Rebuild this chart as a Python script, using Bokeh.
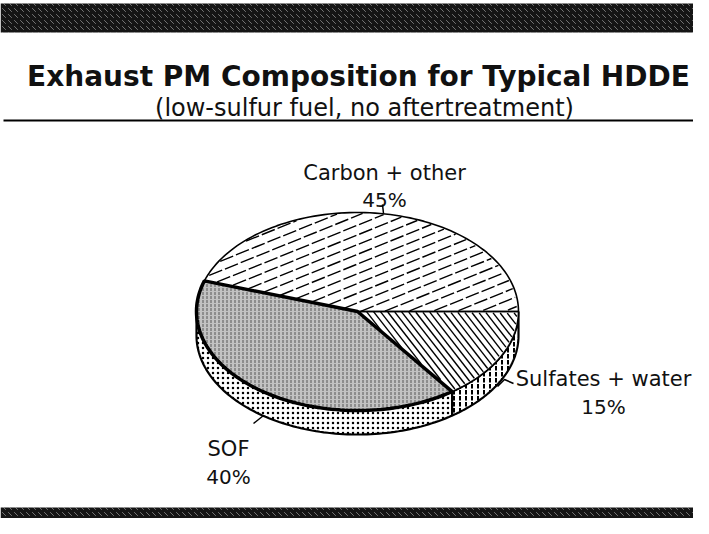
import numpy as np
from bokeh.plotting import figure
from bokeh.models import Range1d
from bokeh.embed import file_html
from bokeh.resources import INLINE
from bokeh.core.properties import value

# ---- data ----
categories = ["Carbon + other", "SOF", "Sulfates + water"]
shares = [45, 40, 15]
pct_labels = ["45%", "40%", "15%"]
title_text = "Exhaust PM Composition for Typical HDDE"
subtitle_text = "(low-sulfur fuel, no aftertreatment)"

# ---- layout (reference pixel coordinates) ----
W, H = 693, 518
CX, CY, RX, RY, DEPTH = 357, 311, 161, 99, 24
FONT = value("DejaVu Sans")

p = figure(width=W, height=H, x_range=Range1d(0, W), y_range=Range1d(H, 0),
           output_backend="svg", toolbar_location=None, min_border=0)
p.axis.visible = False
p.grid.visible = False
p.outline_line_color = None
p.background_fill_color = "white"
p.border_fill_color = "white"

# decorative bars
for top, bot in [(3, 32), (507, 531)]:
    p.quad(left=[0], right=[W + 20], top=[top], bottom=[bot], fill_color="#151515", line_color=None,
           hatch_pattern="`", hatch_color="white", hatch_alpha=0.4, hatch_scale=6, hatch_weight=1)
p.line(x=[3, 709], y=[120, 120], line_color="black", line_width=2)

# titles
p.text(x=[358], y=[76], text=[title_text], text_font=FONT, text_font_style="bold",
       text_font_size="28px", text_align="center", text_baseline="alphabetic", text_color="#111")
p.text(x=[364], y=[107], text=[subtitle_text], text_font=FONT,
       text_font_size="24px", text_align="center", text_baseline="alphabetic", text_color="#111")

# ---- pie geometry from shares ----
total = float(sum(shares))
bounds = np.concatenate([[0.0], np.cumsum(shares) / total * 360.0])


def arc(a0, a1, dy=0.0, n=90):
    t = np.radians(np.linspace(a0, a1, n))
    return CX + RX * np.cos(t), CY - RY * np.sin(t) + dy


def inside(x, y, a0, a1):
    u = (x - CX) / RX
    v = (CY - y) / RY
    ang = np.degrees(np.arctan2(v, u)) % 360.0
    return (u * u + v * v <= 0.985) & (ang >= a0 + 0.8) & (ang <= a1 - 0.8)


def hatch_lines(a0, a1, deg, spacing):
    """Parallel hatch segments clipped to a slice of the top face."""
    th = np.radians(deg)
    d = np.array([np.cos(th), -np.sin(th)])
    nrm = np.array([np.sin(th), np.cos(th)])
    t = np.arange(-260, 260, 0.5)
    xs, ys = [], []
    for c in np.arange(-260, 260, spacing):
        px = CX + c * nrm[0] + t * d[0]
        py = CY + c * nrm[1] + t * d[1]
        m = inside(px, py, a0, a1).astype(int)
        edges = np.diff(np.concatenate([[0], m, [0]]))
        starts = np.where(edges == 1)[0]
        ends = np.where(edges == -1)[0] - 1
        for s, e in zip(starts, ends):
            if e > s:
                xs.append([px[s], px[e]])
                ys.append([py[s], py[e]])
    return xs, ys


side_styles = [
    None,
    dict(fill_color="white", hatch_pattern=".", hatch_color="black", hatch_scale=5, hatch_weight=3,
         line_color="black", line_width=2.2),
    dict(fill_color="white", hatch_pattern=":", hatch_color="black", hatch_scale=6, hatch_weight=2,
         line_color="black", line_width=2.2),
]

# sides (only the front half is visible)
for i in range(len(shares)):
    a0, a1 = max(bounds[i], 180.0), min(bounds[i + 1], 360.0)
    if a1 <= a0 or side_styles[i] is None:
        continue
    xt, yt = arc(a0, a1)
    xb, yb = arc(a0, a1, DEPTH)
    p.patch(x=np.concatenate([xt, xb[::-1]]), y=np.concatenate([yt, yb[::-1]]), **side_styles[i])

# top faces
top_fill = [dict(fill_color="white"),
            dict(fill_color="#c2c2c2", hatch_pattern=":", hatch_color="black", hatch_alpha=0.55,
                 hatch_scale=4, hatch_weight=1),
            dict(fill_color="white")]
top_line = [1.6, 3.5, 1.6]
hatch_spec = [(22, 9, "14 3"), None, (-52, 5.5, "solid")]
for i in range(len(shares)):
    xa, ya = arc(bounds[i], bounds[i + 1])
    xs = np.concatenate([[CX], xa, [CX]])
    ys = np.concatenate([[CY], ya, [CY]])
    p.patch(x=xs, y=ys, line_color=None, **top_fill[i])
    if hatch_spec[i] is not None:
        deg, sp, dash = hatch_spec[i]
        hx, hy = hatch_lines(bounds[i], bounds[i + 1], deg, sp)
        p.multi_line(xs=hx, ys=hy, line_color="black", line_width=1.4, line_dash=dash)
for i in [0, 2, 1]:
    xa, ya = arc(bounds[i], bounds[i + 1])
    xs = np.concatenate([[CX], xa, [CX]])
    ys = np.concatenate([[CY], ya, [CY]])
    p.patch(x=xs, y=ys, fill_color=None, line_color="black", line_width=top_line[i])

# labels
label_pos = [(384, 172, 199), (228, 448, 476), (603, 378, 406)]
for (lx, ly1, ly2), c, pc in zip(label_pos, categories, pct_labels):
    p.text(x=[lx], y=[ly1], text=[c], text_font=FONT, text_font_size="21px",
           text_align="center", text_baseline="alphabetic", text_color="#111")
    p.text(x=[lx], y=[ly2], text=[pc], text_font=FONT, text_font_size="20px",
           text_align="center", text_baseline="alphabetic", text_color="#111")

# leader lines
p.line(x=[382, 383], y=[204, 213], line_color="black", line_width=1.5)
p.line(x=[497, 504, 513], y=[386, 379, 383], line_color="black", line_width=1.5)
p.line(x=[253, 263], y=[423, 415], line_color="black", line_width=1.5)

open("out.html", "w").write(file_html(p, INLINE))
